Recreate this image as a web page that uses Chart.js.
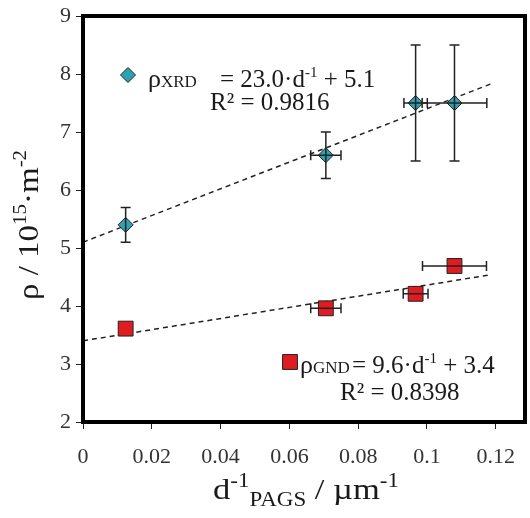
<!DOCTYPE html>
<html><head><meta charset="utf-8">
<script src="https://cdn.jsdelivr.net/npm/chart.js@4"></script>
<style>html,body{margin:0;padding:0;background:#fff;overflow:hidden}#wrap{width:530px;height:518px}canvas{display:block}</style>
</head><body><div id="wrap"><canvas id="c" width="530" height="518"></canvas></div>
<script>
// ---- data ----
const xTickValues = [0, 0.02, 0.04, 0.06, 0.08, 0.1, 0.12];
const xTickLabels = ['0', '0.02', '0.04', '0.06', '0.08', '0.1', '0.12'];
const yTickValues = [2, 3, 4, 5, 6, 7, 8, 9];
const yTickLabels = ['2', '3', '4', '5', '6', '7', '8', '9'];

const xrdX    = [0.0124, 0.0706, 0.0967, 0.1080];
const xrdY    = [5.40, 6.60, 7.50, 7.50];
const xrdXErr = [0, 0.0044, 0.0034, 0.0094];
const xrdYErr = [0.30, 0.40, 1.00, 1.00];

const gndX    = [0.0124, 0.0706, 0.0967, 0.1080];
const gndY    = [3.61, 3.96, 4.21, 4.69];
const gndXErr = [0, 0.0044, 0.0036, 0.0093];
const gndYErr = [0, 0, 0, 0];

const trendX    = [0, 0.1186];
const xrdTrendY = [5.10, 7.83];
const gndTrendY = [3.40, 4.54];

const SERIF = "'Liberation Serif', 'DejaVu Serif', serif";
const TEAL = '#30a0b4';
const RED = '#e01b22';

function pts(xs, ys) { return xs.map((x, i) => ({ x: x, y: ys[i] })); }

function drawRich(ctx, segs, x, y, align, stretch) {
  stretch = stretch || 1;
  let total = 0;
  segs.forEach(s => { ctx.font = s.size + 'px ' + SERIF; s.w = ctx.measureText(s.t).width; total += s.w; });
  ctx.save();
  ctx.translate(x, y);
  ctx.scale(stretch, 1);
  let cx = align === 'center' ? -total / 2 : (align === 'right' ? -total : 0);
  ctx.textAlign = 'left';
  ctx.textBaseline = 'alphabetic';
  segs.forEach(s => {
    ctx.font = s.size + 'px ' + SERIF;
    ctx.fillText(s.t, cx, (s.dy || 0));
    cx += s.w;
  });
  ctx.restore();
}

const errorBars = {
  id: 'errorBars',
  afterDatasetsDraw(chart) {
    const ctx = chart.ctx, xs = chart.scales.x, ys = chart.scales.y;
    ctx.save();
    ctx.strokeStyle = '#222';
    ctx.lineWidth = 1.5;
    const cap = 5;
    const sets = [[xrdX, xrdY, xrdXErr, xrdYErr], [gndX, gndY, gndXErr, gndYErr]];
    sets.forEach(([X, Y, XE, YE]) => {
      X.forEach((xv, i) => {
        const px = xs.getPixelForValue(xv), py = ys.getPixelForValue(Y[i]);
        if (YE[i] > 0) {
          const t = ys.getPixelForValue(Y[i] + YE[i]), b = ys.getPixelForValue(Y[i] - YE[i]);
          ctx.beginPath();
          ctx.moveTo(px, t); ctx.lineTo(px, b);
          ctx.moveTo(px - cap, t); ctx.lineTo(px + cap, t);
          ctx.moveTo(px - cap, b); ctx.lineTo(px + cap, b);
          ctx.stroke();
        }
        if (XE[i] > 0) {
          const l = xs.getPixelForValue(xv - XE[i]), r = xs.getPixelForValue(xv + XE[i]);
          ctx.beginPath();
          ctx.moveTo(l, py); ctx.lineTo(r, py);
          ctx.moveTo(l, py - cap); ctx.lineTo(l, py + cap);
          ctx.moveTo(r, py - cap); ctx.lineTo(r, py + cap);
          ctx.stroke();
        }
      });
    });
    ctx.restore();
  }
};

function drawMarker(ctx, style, x, y, r, color) {
  ctx.save();
  ctx.fillStyle = color;
  ctx.strokeStyle = '#222';
  ctx.lineWidth = 1;
  Chart.helpers.drawPoint(ctx, { pointStyle: style, rotation: 0, radius: r, borderWidth: 1 }, x, y);
  ctx.restore();
}

const frameAndText = {
  id: 'frameAndText',
  afterDraw(chart) {
    const ctx = chart.ctx, a = chart.chartArea;
    ctx.save();
    ctx.strokeStyle = '#000';
    ctx.lineWidth = 4;
    ctx.strokeRect(a.left, a.top, a.right - a.left, a.bottom - a.top);

    ctx.fillStyle = '#1a1a1a';
    // y axis title (rotated)
    ctx.save();
    ctx.translate(38, 225);
    ctx.rotate(-Math.PI / 2);
    drawRich(ctx, [
      { t: 'ρ / 10', size: 30 },
      { t: '15', size: 19, dy: -12 },
      { t: '·m', size: 30 },
      { t: '-2', size: 19, dy: -12 }
    ], 0, 0, 'center', 1.1);
    ctx.restore();

    // x axis title
    drawRich(ctx, [
      { t: 'd', size: 30 },
      { t: '-1', size: 20, dy: -12 },
      { t: 'PAGS', size: 20, dy: 7 },
      { t: ' / µm', size: 30 },
      { t: '-1', size: 20, dy: -12 }
    ], 306, 499, 'center', 1.15);

    // XRD legend / equation
    drawMarker(ctx, 'rectRot', 128, 75, 7.5, TEAL);
    drawRich(ctx, [
      { t: 'ρ', size: 26 },
      { t: 'XRD', size: 17 }
    ], 148, 87, 'left');
    drawRich(ctx, [
      { t: '= 23.0·d', size: 25 },
      { t: '-1', size: 15, dy: -10 },
      { t: ' + 5.1', size: 25 }
    ], 220, 87, 'left');
    drawRich(ctx, [
      { t: 'R² = 0.9816', size: 25 }
    ], 210, 110, 'left');

    // GND legend / equation
    drawMarker(ctx, 'rect', 290, 362, 10.5, RED);
    drawRich(ctx, [
      { t: 'ρ', size: 26 },
      { t: 'GND', size: 17 }
    ], 300, 373, 'left');
    drawRich(ctx, [
      { t: '= 9.6·d', size: 25 },
      { t: '-1', size: 15, dy: -10 },
      { t: ' + 3.4', size: 25 }
    ], 352, 373, 'left');
    drawRich(ctx, [
      { t: 'R² = 0.8398', size: 25 }
    ], 340, 400, 'left');
    ctx.restore();
  }
};

new Chart(document.getElementById('c'), {
  type: 'scatter',
  data: {
    datasets: [
      { label: 'XRD trend', type: 'line', data: pts(trendX, xrdTrendY), borderColor: '#222', borderWidth: 1.5, borderDash: [5, 4], pointRadius: 0, fill: false, order: 3 },
      { label: 'GND trend', type: 'line', data: pts(trendX, gndTrendY), borderColor: '#222', borderWidth: 1.5, borderDash: [5, 4], pointRadius: 0, fill: false, order: 3 },
      { label: 'ρXRD', data: pts(xrdX, xrdY), pointStyle: 'rectRot', pointRadius: 7.5, backgroundColor: TEAL, borderColor: '#222', borderWidth: 1, order: 1 },
      { label: 'ρGND', data: pts(gndX, gndY), pointStyle: 'rect', pointRadius: 10.5, backgroundColor: RED, borderColor: '#222', borderWidth: 1, order: 1 }
    ]
  },
  options: {
    responsive: false,
    animation: false,
    devicePixelRatio: 1,
    layout: { autoPadding: false, padding: { left: 0, right: 5, top: 16, bottom: 0 } },
    plugins: { legend: { display: false }, tooltip: { enabled: false } },
    scales: {
      x: {
        type: 'linear', min: 0, max: 0.1285,
        afterFit(s) { s.height = 96; s.paddingLeft = 0; s.paddingRight = 0; },
        afterBuildTicks(s) { s.ticks = xTickValues.map(v => ({ value: v })); },
        ticks: { callback: (v) => xTickLabels[xTickValues.indexOf(v)], color: '#333', font: { family: SERIF, size: 22 }, padding: 15, maxRotation: 0, autoSkip: false },
        grid: { display: true, drawOnChartArea: false, drawTicks: true, tickLength: 7, color: '#222' },
        border: { display: false }
      },
      y: {
        type: 'linear', min: 2, max: 9,
        afterFit(s) { s.width = 83; s.paddingTop = 0; s.paddingBottom = 0; },
        afterBuildTicks(s) { s.ticks = yTickValues.map(v => ({ value: v })); },
        ticks: { callback: (v) => yTickLabels[yTickValues.indexOf(v)], color: '#333', font: { family: SERIF, size: 22 }, padding: 5, autoSkip: false },
        grid: { display: true, drawOnChartArea: false, drawTicks: true, tickLength: 7, color: '#222' },
        border: { display: false }
      }
    }
  },
  plugins: [errorBars, frameAndText]
});
</script>
</body></html>
